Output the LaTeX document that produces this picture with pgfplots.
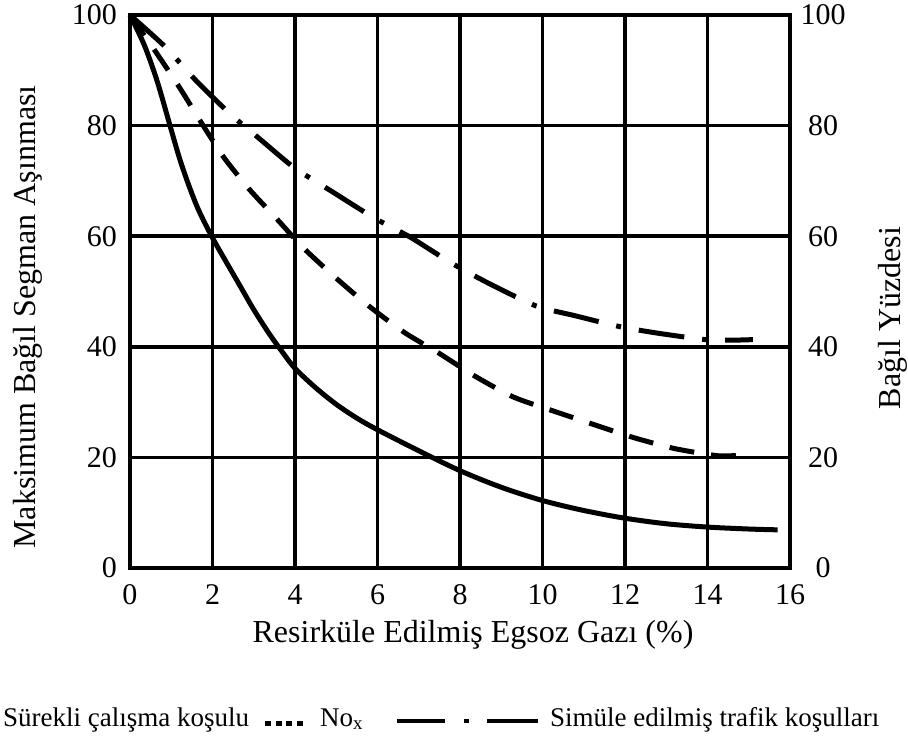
\documentclass[border=0pt]{standalone}
\usepackage{fontspec}
\setmainfont{Liberation Serif}
\usepackage{pgfplots}
\pgfplotsset{compat=1.18}

\newcommand{\tickfont}{\fontsize{30}{36}\selectfont}
\newcommand{\labelfont}{\fontsize{32}{38}\selectfont}
\newcommand{\legfont}{\fontsize{27}{32}\selectfont}

\begin{document}
\begin{tikzpicture}[x=1pt,y=1pt]
\useasboundingbox (-130,-172) rectangle (778,568);

% main axis: grid, left and bottom tick labels, the three curves
\begin{axis}[
  at={(0,0)}, anchor=south west,
  scale only axis, width=660pt, height=553pt,
  xmin=0, xmax=16, ymin=0, ymax=100,
  xtick={0,2,...,16}, ytick={0,20,...,100},
  grid=major, grid style={black, line width=3.5pt},
  axis line style={black, line width=4pt},
  major tick length=0pt,
  /pgf/number format/assume math mode=true,
  tick label style={font=\tickfont, inner sep=0pt},
  xticklabel style={anchor=center, yshift=-27pt},
  yticklabel style={anchor=east, xshift=-13pt},
  clip=false,
]
% Maksimum bagil segman asinmasi
\addplot[black, line width=5pt, smooth, tension=0.5] coordinates {
  (0,100) (0.35,94.5) (0.66,88) (0.97,80) (1.2,74.1) (1.43,69.1)
  (1.67,64.6) (2.0,59.7) (2.32,55.5) (2.63,51.5) (3.01,46.6) (3.39,42.2)
  (3.69,39.1) (4.0,36.1) (4.5,32.6) (5.0,29.6) (5.5,27.1) (6.0,25.0)
  (7.0,21.2) (8.0,17.6) (9.0,14.6) (10.0,12.2) (11.0,10.4) (12.0,9.0)
  (13.0,8.0) (14.0,7.4) (15.0,7.05) (15.7,6.9)
};
% sabit calisma kosulu
\addplot[black, line width=5pt, line cap=butt, dash pattern=on 25pt off 17pt,
  smooth, tension=0.4] coordinates {
  (0,100) (0.6,93.6) (1.2,86.9) (1.74,80.4) (2.28,74.2) (2.89,68.5)
  (3.55,63.2) (4.2,57.9) (5.03,52.2) (5.82,47.2) (6.65,42.6) (7.5,38.8)
  (8.36,34.7) (9.3,30.9) (10.3,28.3) (11.3,25.8) (12.2,23.6) (13.2,21.6)
  (14.25,20.3) (14.8,20.4)
};
% simule edilmis trafik kosullari
\addplot[black, line width=5pt, line cap=butt,
  dash pattern=on 46pt off 18pt on 5pt off 18pt,
  smooth, tension=0.4] coordinates {
  (0,100) (0.86,94.2) (1.58,88.3) (2.43,82.1) (3.16,77.5) (3.98,72.4)
  (4.87,68.2) (5.92,63.3) (6.8,59.8) (7.78,55.2) (8.69,51.5) (9.84,47.4)
  (10.8,45.6) (11.9,43.6) (12.85,42.4) (13.95,41.3) (14.6,41.2) (15.1,41.3)
};
\end{axis}

% right-hand scale
\begin{axis}[
  at={(0,0)}, anchor=south west,
  scale only axis, width=660pt, height=553pt,
  xmin=0, xmax=16, ymin=0, ymax=100,
  hide x axis, axis y line*=right,
  y axis line style={draw=none},
  ytick={0,20,...,100},
  major tick length=0pt,
  /pgf/number format/assume math mode=true,
  yticklabel style={font=\tickfont, inner sep=0pt, anchor=center, xshift=33pt},
]
\addplot[draw=none] coordinates {(0,0) (16,100)};
\end{axis}

% axis titles
\node[rotate=90, font=\labelfont, inner sep=0pt] at (-102,251) {Maksimum Bağıl Segman Aşınması};
\node[rotate=90, font=\labelfont, inner sep=0pt] at (763,250) {Bağıl Yüzdesi};
\node[anchor=base, font=\labelfont, inner sep=0pt] at (343,-74) {Resirküle Edilmiş Egsoz Gazı (\%)};

% key
\node[anchor=base west, font=\legfont, inner sep=0pt] at (-127,-158) {Sürekli çalışma koşulu};
\draw[black, line width=5pt, line cap=butt, dash pattern=on 6pt off 4.5pt] (135,-155.5) -- (176,-155.5);
\node[anchor=base west, font=\legfont, inner sep=0pt] at (190,-158) {No\textsubscript{x}};
\draw[black, line width=4.5pt, line cap=butt] (267,-153) -- (315,-153);
\draw[black, line width=4.5pt, line cap=butt] (334,-153) -- (338.5,-153);
\draw[black, line width=4.5pt, line cap=butt] (357,-153) -- (408,-153);
\node[anchor=base west, font=\legfont, inner sep=0pt] at (420,-158) {Simüle edilmiş trafik koşulları};
\end{tikzpicture}
\end{document}
